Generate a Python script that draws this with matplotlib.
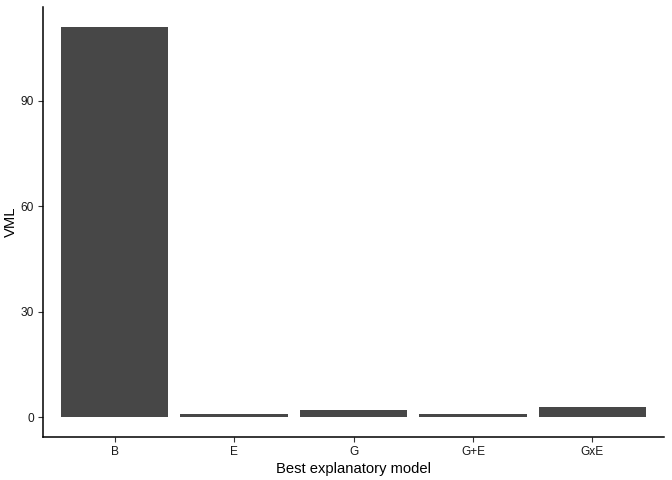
import matplotlib
matplotlib.use('Agg')
from matplotlib import pyplot as plt

plt.rcParams['font.family'] = ['Liberation Sans', 'DejaVu Sans']

models = ['B', 'E', 'G', 'G+E', 'GxE']
vml = [111, 1, 2, 1, 3]
y_ticks = [0, 30, 60, 90]

fig = plt.figure(figsize=(6.72, 4.8), dpi=100)
ax = fig.add_axes([43 / 672, 43 / 480, (664 - 43) / 672, (437 - 7) / 480])

pos = list(range(1, len(models) + 1))
ax.bar(pos, vml, width=0.9, color='#474747')

ymax = max(vml)
ax.set_ylim(-0.05 * ymax, ymax * 1.05)
ax.set_xlim(0.4, len(models) + 0.6)
ax.set_xticks(pos)
ax.set_xticklabels(models)
ax.set_yticks(y_ticks)

for s in ['top', 'right']:
    ax.spines[s].set_visible(False)
for s in ['left', 'bottom']:
    ax.spines[s].set_linewidth(1.1)
    ax.spines[s].set_color('black')

ax.tick_params(axis='both', colors='#333333', labelsize=8.6, length=3.5, width=0.8, pad=3)
for lab in ax.get_xticklabels() + ax.get_yticklabels():
    lab.set_color('#1a1a1a')

ax.set_xlabel('Best explanatory model', fontsize=10.6, labelpad=3)
ax.set_ylabel('VML', fontsize=10.6, labelpad=2)

fig.savefig('out.png', dpi=100)
